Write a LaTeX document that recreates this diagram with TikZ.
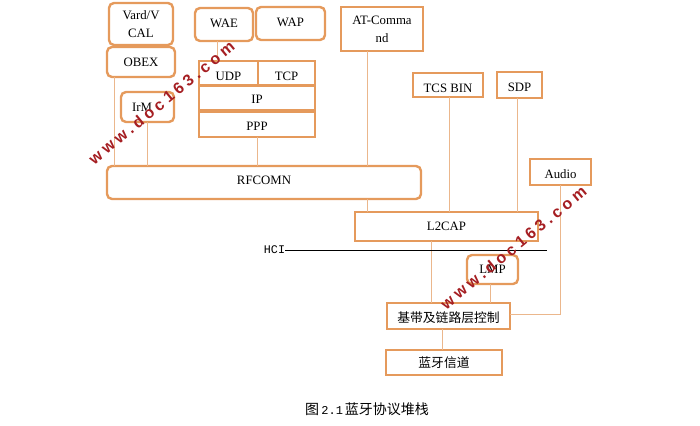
\documentclass[tikz,border=0pt]{standalone}
\usepackage{fontspec}
\setmainfont{Liberation Serif}
\newfontfamily\cjk{Noto Sans CJK SC}
\newfontfamily\hcifont{Liberation Mono}
\newfontfamily\markfont[LetterSpace=24]{Liberation Sans Bold}
\usetikzlibrary{arrows,calc}
\definecolor{boxline}{HTML}{E59A5C}
\definecolor{wireline}{HTML}{EBB78C}
\definecolor{markred}{HTML}{A51E22}
\newcommand{\lab}[2]{\raisebox{#1}[\height][\depth]{#2}}
\tikzset{
  pbox/.style={draw=boxline,line width=2.4pt,fill=white,inner sep=0pt,outer sep=0pt,align=center,
    font=\fontsize{12.8}{18}\selectfont},
  rbox/.style={pbox,rounded corners=5pt},
  wire/.style={draw=wireline,line width=1pt},
  wmark/.style={text=markred,rotate=39.5,font=\markfont\fontsize{16}{16}\selectfont},
  size/.style 2 args={minimum width=#1pt,minimum height=#2pt}
}
\begin{document}
\begin{tikzpicture}[x=1pt,y=-1pt]
  \useasboundingbox (0,0) rectangle (700,425);
  % upper stack
  \node[rbox,size={64}{42}] (vard) at (141,24) {Vard/V\\CAL};
  \node[rbox,size={68}{30}] (obex) at (141,62) {OBEX};
  \node[rbox,size={53}{30}] (irm) at (147.5,107) {IrM\hspace{11pt}};
  \node[rbox,size={58}{33}] (wae) at (224,24.5) {\lab{1.5pt}{WAE}};
  \node[rbox,size={69}{33}] (wap) at (290.5,23.5) {\lab{1pt}{WAP}};
  \node[pbox,size={59}{24}] (udp) at (228.5,73) {\lab{-3pt}{UDP}};
  \node[pbox,size={57}{24}] (tcp) at (286.5,73) {\lab{-3pt}{TCP}};
  \node[pbox,size={116}{25}] (ip) at (257,98) {\lab{-1pt}{IP}};
  \node[pbox,size={116}{25}] (ppp) at (257,124.5) {\lab{-1.5pt}{PPP}};
  \node[pbox,size={82}{44}] (atcmd) at (382,29) {AT-Comma\\nd};
  \node[pbox,size={70}{24}] (tcsbin) at (448,85) {\lab{-3pt}{TCS BIN}};
  \node[pbox,size={45}{26}] (sdp) at (519.5,85) {\lab{-2pt}{SDP}};
  \node[pbox,size={61}{26}] (audio) at (560.5,172) {\lab{-2pt}{Audio}};
  % lower stack
  \node[rbox,size={314}{33}] (rfcomn) at (264,182.5) {\lab{2pt}{RFCOMN}};
  \node[pbox,size={183}{29}] (ltwocap) at (446.5,226.5) {L2CAP};
  \node[rbox,size={51}{29}] (lmp) at (492.5,269.5) {LMP};
  \node[pbox,size={123}{26},font=\cjk\fontsize{12.8}{15}\selectfont] (baseband) at (448.5,316) {\lab{-2pt}{基带及链路层控制}};
  \node[pbox,size={116}{25},font=\cjk\fontsize{12.8}{15}\selectfont] (channel) at (444,362.5) {蓝牙信道};
  % connectors
  \foreach \upper/\lower/\xpos in {obex/rfcomn/114,irm/rfcomn/147,wae/udp/217,ppp/rfcomn/257,
    atcmd/rfcomn/367,tcsbin/ltwocap/449,sdp/ltwocap/517,rfcomn/ltwocap/367,
    ltwocap/baseband/431,lmp/baseband/490,baseband/channel/442}
    \draw[wire] (\upper.south -| \xpos,0) -- (\lower.north -| \xpos,0);
  \draw[wire] (baseband.east |- 0,314) -| (audio.south);
  % HCI line
  \node[inner sep=0pt,font=\hcifont\fontsize{11.7}{14}\selectfont] (hci) at (274.5,250) {HCI};
  \coordinate (hciend) at (547,250);
  \draw[line width=.8pt] (hci.east) -- (hciend);
  % caption
  \node[inner sep=0pt] (caption) at (367,409) {\cjk\fontsize{14}{16}\selectfont 图\,\hcifont\fontsize{12}{16}\selectfont 2.1\,\cjk\fontsize{14}{16}\selectfont 蓝牙协议堆栈};
  % watermarks
  \node[wmark] (markleft) at (161.5,102.5) {www.doc163.com};
  \node[wmark] (markright) at (513.5,247.5) {www.doc163.com};
\end{tikzpicture}
\end{document}
